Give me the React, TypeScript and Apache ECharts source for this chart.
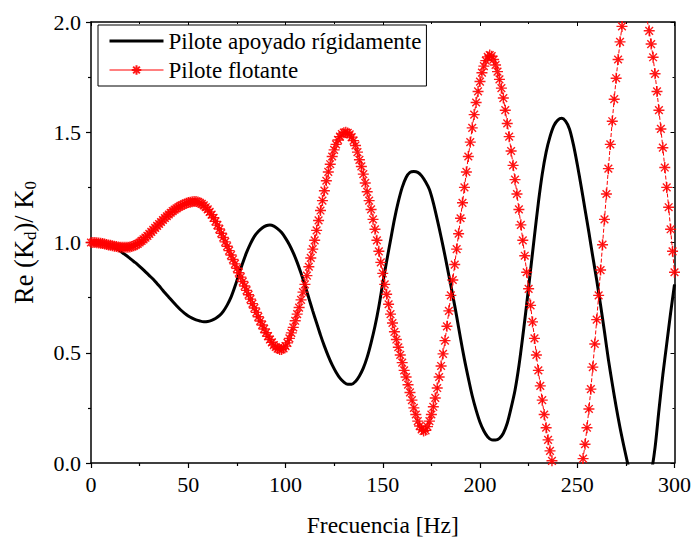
import React, { useEffect, useRef } from "react";
import * as echarts from "echarts";

// Frequency grid: red (floating pile) sampled every 1 Hz, black (rigid support) every 2 Hz
const RED_STEP_HZ = 1;
const BLACK_STEP_HZ = 2;

const seriesNames = ["Pilote apoyado rígidamente", "Pilote flotante"];

// Re(Kd)/K0, pilote flotante, 0..300 Hz
const redRe = [
  1.000, 1.000, 1.000, 0.999, 0.998, 0.997, 0.995, 0.993, 0.991, 0.989,
  0.987, 0.985, 0.983, 0.982, 0.980, 0.979, 0.978, 0.978, 0.978, 0.979,
  0.980, 0.982, 0.985, 0.989, 0.994, 1.000, 1.007, 1.014, 1.022, 1.030,
  1.039, 1.048, 1.057, 1.066, 1.075, 1.084, 1.093, 1.102, 1.111, 1.119,
  1.127, 1.135, 1.142, 1.149, 1.155, 1.161, 1.166, 1.170, 1.174, 1.178,
  1.181, 1.183, 1.185, 1.186, 1.186, 1.184, 1.180, 1.175, 1.168, 1.160,
  1.150, 1.139, 1.126, 1.112, 1.096, 1.079, 1.061, 1.042, 1.023, 1.003,
  0.983, 0.963, 0.943, 0.923, 0.903, 0.883, 0.863, 0.843, 0.823, 0.803,
  0.783, 0.763, 0.743, 0.723, 0.703, 0.683, 0.663, 0.644, 0.626, 0.608,
  0.591, 0.575, 0.560, 0.547, 0.535, 0.526, 0.519, 0.515, 0.515, 0.520,
  0.530, 0.545, 0.565, 0.590, 0.615, 0.645, 0.675, 0.705, 0.740, 0.775,
  0.810, 0.850, 0.890, 0.930, 0.970, 1.010, 1.055, 1.100, 1.145, 1.190,
  1.235, 1.280, 1.320, 1.355, 1.390, 1.420, 1.445, 1.465, 1.480, 1.492,
  1.498, 1.500, 1.497, 1.490, 1.478, 1.462, 1.440, 1.410, 1.375, 1.345,
  1.310, 1.270, 1.230, 1.190, 1.150, 1.105, 1.060, 1.010, 0.960, 0.910,
  0.860, 0.810, 0.765, 0.720, 0.675, 0.635, 0.595, 0.560, 0.525, 0.490,
  0.455, 0.420, 0.390, 0.355, 0.320, 0.285, 0.250, 0.220, 0.190, 0.168,
  0.152, 0.145, 0.148, 0.165, 0.190, 0.220, 0.255, 0.295, 0.340, 0.390,
  0.440, 0.495, 0.555, 0.620, 0.690, 0.760, 0.830, 0.900, 0.970, 1.040,
  1.110, 1.180, 1.250, 1.320, 1.390, 1.455, 1.520, 1.580, 1.635, 1.685,
  1.730, 1.770, 1.800, 1.825, 1.842, 1.850, 1.845, 1.830, 1.805, 1.775,
  1.740, 1.700, 1.655, 1.600, 1.540, 1.480, 1.415, 1.350, 1.285, 1.220,
  1.150, 1.080, 1.010, 0.940, 0.865, 0.790, 0.715, 0.640, 0.565, 0.490,
  0.420, 0.350, 0.285, 0.220, 0.160, 0.105, 0.055, 0.010, -0.030, -0.070,
  -0.110, -0.145, -0.180, -0.210, -0.230, -0.240, -0.240, -0.230, -0.210, -0.180,
  -0.140, -0.095, -0.040, 0.020, 0.085, 0.160, 0.245, 0.335, 0.435, 0.540,
  0.650, 0.760, 0.875, 0.990, 1.105, 1.220, 1.335, 1.445, 1.550, 1.650,
  1.745, 1.830, 1.910, 1.980, 2.040, 2.090, 2.130, 2.160, 2.180, 2.190,
  2.190, 2.180, 2.160, 2.130, 2.090, 2.050, 2.005, 1.960, 1.900, 1.840,
  1.765, 1.685, 1.600, 1.515, 1.430, 1.340, 1.250, 1.160, 1.060, 0.960,
  0.865,
];

// Re(Kd)/K0, pilote apoyado rígidamente, 0..300 Hz every 2 Hz
const blackRe = [
  1.000, 0.999, 0.997, 0.994, 0.990, 0.985, 0.977, 0.967, 0.955, 0.942,
  0.928, 0.914, 0.900, 0.884, 0.867, 0.850, 0.833, 0.813, 0.793, 0.772,
  0.752, 0.732, 0.713, 0.695, 0.680, 0.667, 0.657, 0.649, 0.644, 0.641,
  0.642, 0.647, 0.655, 0.668, 0.688, 0.716, 0.752, 0.800, 0.855, 0.907,
  0.955, 0.995, 1.028, 1.050, 1.066, 1.076, 1.079, 1.074, 1.062, 1.045,
  1.020, 0.990, 0.953, 0.910, 0.860, 0.805, 0.748, 0.690, 0.635, 0.580,
  0.530, 0.485, 0.445, 0.412, 0.385, 0.367, 0.357, 0.357, 0.370, 0.395,
  0.430, 0.480, 0.545, 0.620, 0.710, 0.815, 0.915, 1.010, 1.105, 1.185,
  1.250, 1.295, 1.318, 1.322, 1.318, 1.302, 1.275, 1.240, 1.180, 1.105,
  1.025, 0.940, 0.850, 0.760, 0.665, 0.565, 0.470, 0.385, 0.305, 0.240,
  0.185, 0.145, 0.118, 0.105, 0.104, 0.112, 0.135, 0.180, 0.250, 0.330,
  0.440, 0.575, 0.720, 0.875, 1.030, 1.180, 1.310, 1.410, 1.480, 1.530,
  1.555, 1.563, 1.550, 1.515, 1.445, 1.355, 1.255, 1.150, 1.045, 0.935,
  0.830, 0.715, 0.595, 0.470, 0.360, 0.255, 0.160, 0.075, -0.005, -0.080,
  -0.130, -0.160, -0.150, -0.110, -0.045, 0.070, 0.240, 0.400, 0.540, 0.680,
  0.810,
];

const xTicks = [0, 50, 100, 150, 200, 250, 300];
const yTicks = [0.0, 0.5, 1.0, 1.5, 2.0];

const FONT = "Liberation Serif";
const STAR = "path://M0,5L10,5M5,0L5,10M1.5,1.5L8.5,8.5M8.5,1.5L1.5,8.5";

export default function App() {
  const ref = useRef<HTMLDivElement>(null);
  useEffect(() => {
    if (!ref.current) return;
    const chart = echarts.init(ref.current, undefined, { renderer: "svg" });
    const xMin = xTicks[0];
    const xMax = xTicks[xTicks.length - 1];
    const xInt = xTicks[1] - xTicks[0];
    const yMin = yTicks[0];
    const yMax = yTicks[yTicks.length - 1];
    const yInt = yTicks[1] - yTicks[0];
    const axisLine = { show: true, onZero: false, lineStyle: { color: "#000", width: 1.5 } };
    chart.setOption({
      animation: false,
      backgroundColor: "#fff",
      textStyle: { fontFamily: FONT },
      grid: { left: 91, right: 18, top: 22, bottom: 82 },
      legend: {
        left: 98,
        top: 25,
        orient: "vertical",
        backgroundColor: "#fff",
        borderColor: "#000",
        borderWidth: 1,
        padding: [4, 5, 4, 10],
        itemGap: 5,
        itemWidth: 54,
        itemHeight: 12,
        textStyle: { fontFamily: FONT, fontSize: 23, color: "#000", lineHeight: 24 },
        data: [
          { name: seriesNames[0], itemStyle: { opacity: 0 }, lineStyle: { width: 3, color: "#000" } },
          {
            name: seriesNames[1],
            lineStyle: { width: 1, type: "solid", color: "#ff0000" },
          },
        ],
      },
      xAxis: [
        {
          type: "value",
          min: xMin,
          max: xMax,
          interval: xInt,
          position: "bottom",
          axisLine,
          axisTick: { show: true, inside: false, length: 5, lineStyle: { color: "#000", width: 1.2 } },
          minorTick: { show: true, splitNumber: 2, length: 3, lineStyle: { color: "#000", width: 1.2 } },
          splitLine: { show: false },
          axisLabel: { fontFamily: FONT, fontSize: 22, color: "#000", margin: 10 },
          name: "Frecuencia [Hz]",
          nameLocation: "middle",
          nameGap: 50,
          nameTextStyle: { fontFamily: FONT, fontSize: 23.5, color: "#000" },
        },
        {
          type: "value",
          min: xMin,
          max: xMax,
          interval: xInt,
          position: "top",
          axisLine,
          axisTick: { show: true, inside: true, length: 4, lineStyle: { color: "#000" } },
          minorTick: { show: true, splitNumber: 2, length: 2, lineStyle: { color: "#000" } },
          splitLine: { show: false },
          axisLabel: { show: false },
        },
      ],
      yAxis: [
        {
          type: "value",
          min: yMin,
          max: yMax,
          interval: yInt,
          position: "left",
          axisLine,
          axisTick: { show: true, inside: false, length: 5, lineStyle: { color: "#000", width: 1.2 } },
          minorTick: { show: true, splitNumber: 2, length: 3, lineStyle: { color: "#000", width: 1.2 } },
          splitLine: { show: false },
          axisLabel: {
            fontFamily: FONT,
            fontSize: 22,
            color: "#000",
            margin: 10,
            formatter: (v: number) => v.toFixed(1),
          },
          name: "{a|Re (K}{s|d}{a|)/ K}{s|0}",
          nameLocation: "middle",
          nameGap: 52,
          nameTextStyle: {
            fontFamily: FONT,
            fontSize: 26.5,
            color: "#000",
            rich: {
              a: { fontFamily: FONT, fontSize: 26.5, color: "#000" },
              s: { fontFamily: FONT, fontSize: 17, color: "#000", padding: [13, 0, 0, 0] },
            },
          },
        },
        {
          type: "value",
          min: yMin,
          max: yMax,
          interval: yInt,
          position: "right",
          axisLine,
          axisTick: { show: true, inside: true, length: 4, lineStyle: { color: "#000" } },
          minorTick: { show: true, splitNumber: 2, length: 2, lineStyle: { color: "#000" } },
          splitLine: { show: false },
          axisLabel: { show: false },
        },
      ],
      series: [
        {
          name: seriesNames[0],
          type: "line",
          xAxisIndex: 0,
          yAxisIndex: 0,
          symbol: "none",
          clip: true,
          smooth: 0.3,
          lineStyle: { color: "#000", width: 3 },
          itemStyle: { color: "#000" },
          data: blackRe.map((v, i) => [i * BLACK_STEP_HZ, v]),
          z: 2,
        },
        {
          name: seriesNames[1],
          type: "line",
          xAxisIndex: 0,
          yAxisIndex: 0,
          symbol: STAR,
          symbolSize: 11,
          showSymbol: true,
          clip: true,
          lineStyle: { color: "#ff0000", width: 1, type: [4, 2] },
          itemStyle: { color: "rgba(0,0,0,0)", borderColor: "#ff0000", borderWidth: 1.4, opacity: 0.9 },
          data: redRe.map((v, i) => [i * RED_STEP_HZ, v]),
          z: 3,
        },
      ],
    });
    return () => chart.dispose();
  }, []);
  return (
    <div
      ref={ref}
      style={{ position: "fixed", left: 0, top: 0, width: 694, height: 545, background: "#fff" }}
    />
  );
}
